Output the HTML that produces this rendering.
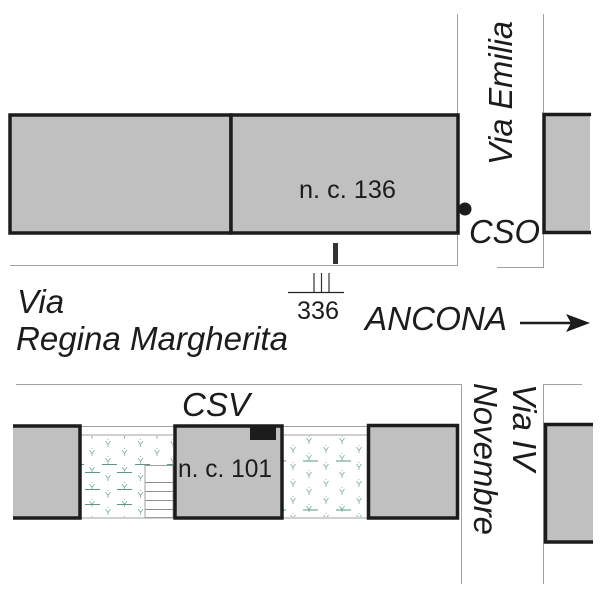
<!DOCTYPE html>
<html>
<head>
<meta charset="utf-8">
<style>
html,body{margin:0;padding:0;background:#fff;width:600px;height:600px;overflow:hidden}
svg{display:block}
text{font-family:"Liberation Sans",sans-serif;fill:#1c1c1c}
.i{font-style:italic;font-size:33px}
</style>
</head>
<body>
<svg width="600" height="600" viewBox="0 0 600 600" xmlns="http://www.w3.org/2000/svg">
<defs>
<g id="y"><path d="M-2.500 -2.500L0 1L2.500 -2.500M0 1V3.500M0 -4.500V-3.500" stroke="#7fae9a" stroke-width="0.8" fill="none"/></g>
<pattern id="g" width="32.500" height="17" patternUnits="userSpaceOnUse" x="84" y="431">
<use href="#y" x="8" y="4.500"/>
<use href="#y" x="24" y="12.500"/>
</pattern>
<pattern id="h" width="33" height="17" patternUnits="userSpaceOnUse" x="285" y="428">
<use href="#y" x="8" y="4.500"/>
<use href="#y" x="24" y="12.500"/>
</pattern>
</defs>
<rect width="600" height="600" fill="#fff"/>

<!-- street lines -->
<g stroke="#a0a0a0" stroke-width="1" fill="none">
<path d="M457.500 14V265.500H10"/>
<path d="M543.500 14V267.500H497"/>
<path d="M16 384.500H461.500V584"/>
<path d="M543.500 584V384.500H582"/>
<path d="M80 426.500H367M80 435H173M282 435H367M80 518H367"/>
</g>

<!-- top blocks -->
<rect x="10" y="115" width="221" height="118" fill="#c0c0c0" stroke="#1c1c1c" stroke-width="3.500"/>
<rect x="231" y="115" width="227" height="118" fill="#c0c0c0" stroke="#1c1c1c" stroke-width="3.500"/>
<rect x="544" y="115" width="46" height="117" fill="#c0c0c0"/>
<path d="M591 114.500H544V232.500H591" fill="none" stroke="#1c1c1c" stroke-width="3.500"/>
<circle cx="465" cy="209" r="6.500" fill="#1c1c1c"/>

<!-- garden -->
<rect x="81" y="436" width="92" height="81" fill="url(#g)"/>
<rect x="283" y="436" width="84" height="81" fill="url(#h)"/>
<g stroke="#4f9c7f" stroke-width="1" fill="none">
<path d="M80 464.500H84M102 464.500H117M135 464.500H150M167 464.500H173"/>
<path d="M85 472.500H100M117 472.500H132M85 489.500H100M117 489.500H132M85 504.500H100M117 504.500H132"/>
<path d="M282 461H286M303 461H318M336 461H351M282 510H286M303 510H318M336 510H351"/>
</g>

<!-- stairs -->
<rect x="145" y="465.500" width="28" height="52" fill="#fff" stroke="#a0a0a0" stroke-width="1"/>
<path d="M145 482.500H173M145 491.500H173M145 500.500H173M145 509.500H173" stroke="#909090" stroke-width="1"/>

<!-- bottom blocks -->
<rect x="13" y="426" width="66" height="92" fill="#c0c0c0"/>
<path d="M13 426H80V518H13" fill="none" stroke="#1c1c1c" stroke-width="3.500"/>
<rect x="175" y="426" width="107" height="92" fill="#c0c0c0" stroke="#1c1c1c" stroke-width="3.500"/>
<rect x="250" y="426" width="26" height="14" fill="#1c1c1c"/>
<rect x="368.500" y="425.500" width="89" height="92.500" fill="#c0c0c0" stroke="#1c1c1c" stroke-width="3.500"/>
<rect x="545" y="424" width="48" height="119" fill="#c0c0c0"/>
<path d="M593 424.500H545.500V542H593" fill="none" stroke="#1c1c1c" stroke-width="3.500"/>

<!-- number marker -->
<rect x="333" y="243" width="5" height="21" fill="#333"/>
<path d="M314 273V292M321.500 273V292M329 273V292" stroke="#333" stroke-width="1.200"/>
<path d="M288 292.500H344" stroke="#222" stroke-width="1.200"/>

<!-- arrow -->
<path d="M520 323H575" stroke="#1c1c1c" stroke-width="2.500"/>
<path d="M590 323L566 314L571 323L566 332Z" fill="#1c1c1c"/>

<!-- labels -->
<text x="299" y="198" font-size="25" textLength="97" lengthAdjust="spacingAndGlyphs">n. c. 136</text>
<text x="178" y="477" font-size="25" textLength="94" lengthAdjust="spacingAndGlyphs">n. c. 101</text>
<text x="297" y="319" font-size="25" textLength="42" lengthAdjust="spacingAndGlyphs">336</text>
<text class="i" x="17" y="313">Via</text>
<text class="i" x="16" y="350" textLength="272" lengthAdjust="spacingAndGlyphs">Regina Margherita</text>
<text class="i" x="182" y="416" textLength="68" lengthAdjust="spacingAndGlyphs">CSV</text>
<text class="i" x="365" y="330" textLength="142" lengthAdjust="spacingAndGlyphs">ANCONA</text>
<text class="i" x="469" y="243" textLength="71" lengthAdjust="spacingAndGlyphs">CSO</text>
<text class="i" transform="translate(512 165) rotate(-90)" textLength="144" lengthAdjust="spacingAndGlyphs">Via Emilia</text>
<text class="i" transform="translate(513 384) rotate(90)" textLength="87" lengthAdjust="spacingAndGlyphs">Via IV</text>
<text class="i" transform="translate(474 383) rotate(90)" textLength="152" lengthAdjust="spacingAndGlyphs">Novembre</text>
</svg>
</body>
</html>
